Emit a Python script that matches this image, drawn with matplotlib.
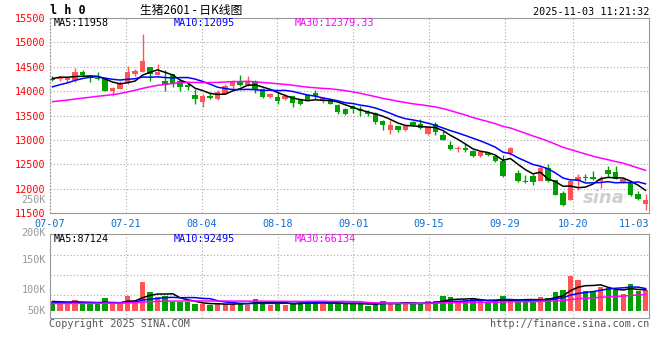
import matplotlib
matplotlib.use('Agg')
import matplotlib.pyplot as plt
import numpy as np

# canvas in pixels
W, H = 660, 360

dates = ['07-07', '07-21', '08-04', '08-18', '09-01', '09-15', '09-29', '10-20', '11-03']
date_idx = [0, 10, 20, 30, 40, 50, 60, 69, 79]

# daily candles 07-07 .. 11-03
opens = [14260, 14247, 14240, 14240, 14404, 14315, 14267, 14253, 14000, 14055,
         14185, 14363, 14404, 14493, 14336, 14205, 14363, 14205, 14123, 13932,
         13781, 13897, 13836, 13952, 14103, 14219, 14137, 14192, 14055, 13884,
         13877, 13836, 13897, 13815, 13925, 13966, 13795, 13829, 13712, 13637,
         13706, 13637, 13582, 13555, 13384, 13212, 13295, 13212, 13363, 13336,
         13130, 13336, 13110, 12904, 12822, 12842, 12767, 12664, 12733, 12664,
         12569, 12740, 12329, 12171, 12274, 12158, 12418, 12192, 11918, 11781,
         12158, 12240, 12240, 12171, 12397, 12349, 12137, 12144, 11897, 11692]
highs = [14322, 14322, 14267, 14466, 14432, 14315, 14390, 14253, 14089, 14205,
         14527, 14459, 15164, 14493, 14568, 14432, 14363, 14253, 14205, 14055,
         13952, 13979, 14034, 14144, 14240, 14329, 14308, 14240, 14075, 13966,
         13979, 13938, 13897, 13829, 13952, 14021, 13884, 13849, 13747, 13657,
         13726, 13692, 13610, 13568, 13404, 13404, 13295, 13315, 13384, 13432,
         13267, 13363, 13178, 12973, 12884, 12925, 12801, 12781, 12760, 12678,
         12692, 12856, 12377, 12281, 12308, 12466, 12500, 12192, 11952, 12185,
         12308, 12308, 12363, 12260, 12466, 12466, 12226, 12158, 11966, 11897]
lows = [14205, 14219, 14185, 14185, 14308, 14185, 14226, 13995, 13897, 14055,
        14158, 14308, 14404, 14205, 14336, 14000, 14082, 14000, 14020, 13733,
        13678, 13842, 13815, 13938, 14034, 14103, 14116, 13966, 13870, 13870,
        13733, 13815, 13678, 13712, 13822, 13842, 13760, 13733, 13541, 13507,
        13555, 13486, 13500, 13336, 13212, 13130, 13157, 13178, 13295, 13226,
        13110, 13110, 12993, 12788, 12760, 12760, 12644, 12644, 12664, 12555,
        12240, 12692, 12144, 12116, 12075, 12158, 12144, 11870, 11644, 11767,
        11986, 12158, 12185, 12021, 12240, 12199, 12116, 11849, 11781, 11575]
closes = [14240, 14295, 14267, 14390, 14342, 14274, 14253, 14000, 14075, 14158,
          14390, 14418, 14610, 14363, 14404, 14137, 14158, 14082, 14082, 13849,
          13897, 13863, 13986, 14103, 14185, 14123, 14219, 14021, 13884, 13945,
          13801, 13911, 13760, 13733, 13822, 13897, 13856, 13747, 13575, 13541,
          13637, 13589, 13541, 13363, 13315, 13315, 13212, 13295, 13315, 13247,
          13267, 13157, 12993, 12822, 12836, 12788, 12664, 12747, 12692, 12568,
          12260, 12843, 12158, 12137, 12144, 12418, 12158, 11884, 11664, 12171,
          12247, 12219, 12199, 12205, 12308, 12199, 12205, 11870, 11801, 11781]
# volume in thousands
volume_k = [37, 31, 31, 44, 26, 26, 26, 53, 29, 29,
            61, 31, 119, 78, 57, 61, 36, 36, 36, 28,
            26, 22, 33, 28, 28, 33, 25, 49, 33, 25,
            33, 25, 28, 36, 39, 33, 28, 28, 34, 26,
            34, 26, 20, 31, 40, 34, 26, 34, 26, 31,
            40, 40, 61, 57, 40, 45, 47, 40, 34, 40,
            61, 40, 45, 45, 40, 57, 51, 78, 86, 146,
            127, 82, 82, 100, 93, 86, 70, 110, 82, 86]

# sessions before the window, only needed to start the moving averages
pre_closes = [13820, 13790, 13760, 13780, 13730, 13650, 13560, 13500, 13470, 13420,
              13400, 13450, 13380, 13520, 13560, 13620, 13700, 13790, 13860, 13956,
              13850, 13900, 13880, 13960, 14010, 14150, 14280, 14320, 14310]
pre_volume_k = [28, 25, 30, 27, 24, 26, 31, 29, 25, 27,
                30, 24, 26, 28, 23, 27, 29, 31, 26, 25,
                30, 33, 28, 35, 32, 38, 42, 35, 40]

price_ticks = [15500, 15000, 14500, 14000, 13500, 13000, 12500, 12000, 11500]
price_grid = [15000, 14500, 14000, 13500, 13000, 12500, 12000]
# sina's volume labels sit off their gridlines; keep their drawn spots
vol_labels = ['250K', '200K', '150K', '100K', '50K']
vol_label_at = [459, 322, 210, 86, 0]
vol_grid = [231, 148, 65]

UP = '#ff5555'
DOWN = '#00a000'
GRID = '#aaaaaa'
EDGE = '#999999'
MONO = 'DejaVu Sans Mono'


def ma(vals, pre, n):
    full = np.array(pre + vals, dtype=float)
    out = np.convolve(full, np.ones(n) / n, mode='valid')
    return out[-len(vals):]


def px(x, y):
    return x / W, 1 - y / H


x = np.arange(len(closes))
o = np.array(opens)
c = np.array(closes)
up = c >= o
colors = np.where(up, UP, DOWN)

fig = plt.figure(figsize=(W / 100, H / 100), dpi=100)
ax = fig.add_axes([50 / W, 1 - 213.3 / H, 599 / W, 195.3 / H])
axv = fig.add_axes([50 / W, 1 - 318.3 / H, 599 / W, 84 / H])

xlim = (-0.33, 79.43)
# sina spaces its date gridlines a touch wider than the candles
grid_x = [i * 1.01 - 0.33 for i in date_idx]

# ---- price panel
for p in price_grid:
    ax.axhline(p, color=GRID, ls=(0, (1, 2)), lw=0.8, zorder=0)
for gx in grid_x[1:-1]:
    ax.axvline(gx, color=GRID, ls=(0, (1, 2)), lw=0.8, zorder=0)

ax.vlines(x, lows, highs, colors=colors, lw=1, zorder=2)
body = np.maximum(np.abs(c - o), 16)
ax.bar(x, body, bottom=np.minimum(o, c), width=0.72, color=colors, zorder=3)

ax.plot(x, ma(closes, pre_closes, 5), color='black', lw=1.1, zorder=4)
ax.plot(x, ma(closes, pre_closes, 10), color='#0000ff', lw=1.1, zorder=4)
ax.plot(x, ma(closes, pre_closes, 30), color='#ff00ff', lw=1.1, zorder=4)

ax.set_xlim(*xlim)
ax.set_ylim(11500, 15500)
ax.set_yticks(price_ticks)
ax.set_yticklabels([str(p) for p in price_ticks], color='#ff0000',
                   family=MONO, fontsize=7.3)
ax.set_xticks(grid_x)
ax.set_xticklabels(dates, color='#0a6fd6', family=MONO, fontsize=7.3)
ax.get_xticklabels()[-1].set_ha('right')
ax.tick_params(axis='y', length=0, pad=3)
ax.tick_params(axis='x', length=0, pad=4)
for s in ax.spines.values():
    s.set_color(EDGE)
ax.spines['left'].set_linestyle((0, (1, 2)))

ax.text(0.96, 0.08, 'sina', transform=ax.transAxes, fontsize=13, fontweight='bold',
        style='italic', color='#bbbbbb', alpha=0.7, ha='right', va='center', zorder=1)

# ---- volume panel
for v in vol_grid:
    axv.axhline(v, color=GRID, ls=(0, (1, 2)), lw=0.8, zorder=0)
for gx in grid_x[1:-1]:
    axv.axvline(gx, color=GRID, ls=(0, (1, 2)), lw=0.8, zorder=0)

axv.bar(x, volume_k, width=0.72, color=colors, zorder=2)
axv.plot(x, ma(volume_k, pre_volume_k, 5), color='black', lw=1.1, zorder=3)
axv.plot(x, ma(volume_k, pre_volume_k, 10), color='#0000ff', lw=1.1, zorder=3)
axv.plot(x, ma(volume_k, pre_volume_k, 30), color='#ff00ff', lw=1.1, zorder=3)

axv.set_xlim(*xlim)
axv.set_ylim(-31.5, 317)
axv.set_xticks([])
axv.set_yticks([])
for lab, v in zip(vol_labels, vol_label_at):
    axv.text(-0.007, v, lab, transform=axv.get_yaxis_transform(), ha='right',
             va='center', color=EDGE, family=MONO, fontsize=7.3, clip_on=False)
for s in axv.spines.values():
    s.set_color(EDGE)

# ---- header / legends / footer
fig.text(*px(50, 11), 'l h 0', family=MONO, fontweight='bold', fontsize=8.5,
         va='center', ha='left')
fig.text(*px(140, 10), '生猪2601 - 日K线图', family=['Noto Sans CJK SC', 'DejaVu Sans'],
         fontsize=8.5, va='center', ha='left')
fig.text(*px(649, 12), '2025-11-03 11:21:32', family=MONO, fontsize=7.3,
         va='center', ha='right')

fig.text(*px(54, 23.5), 'MA5:11958', family=MONO, fontsize=7.3, va='center', color='black')
fig.text(*px(174, 23.5), 'MA10:12095', family=MONO, fontsize=7.3, va='center', color='#0000ff')
fig.text(*px(295, 23.5), 'MA30:12379.33', family=MONO, fontsize=7.3, va='center', color='#ff00ff')

fig.text(*px(54, 239.5), 'MA5:87124', family=MONO, fontsize=7.3, va='center', color='black')
fig.text(*px(174, 239.5), 'MA10:92495', family=MONO, fontsize=7.3, va='center', color='#0000ff')
fig.text(*px(295, 239.5), 'MA30:66134', family=MONO, fontsize=7.3, va='center', color='#ff00ff')

fig.text(*px(49, 324), 'Copyright 2025 SINA.COM', family=MONO, fontsize=7.3,
         va='center', color='#555555')
fig.text(*px(649, 324), 'http://finance.sina.com.cn', family=MONO, fontsize=7.3,
         va='center', ha='right', color='#555555')

fig.savefig('out.png', dpi=100)
